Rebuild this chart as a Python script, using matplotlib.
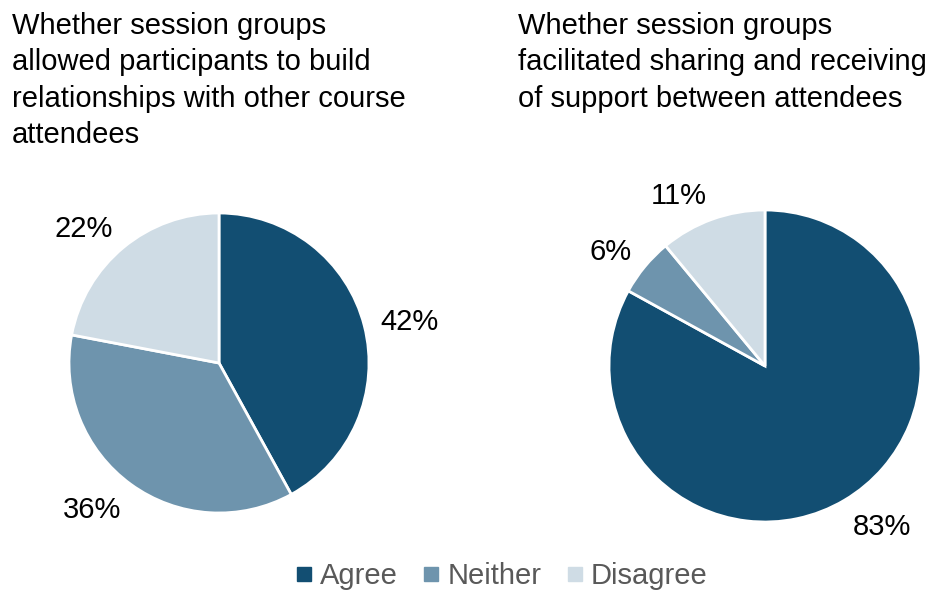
import numpy as np
import matplotlib.pyplot as plt
from matplotlib.lines import Line2D

plt.rcParams["font.family"] = ["Liberation Sans", "DejaVu Sans"]

categories = ["Agree", "Neither", "Disagree"]
relationships = [42, 36, 22]
support = [83, 6, 11]
colors = ["#124E72", "#6E94AD", "#CFDCE5"]
title_left = "Whether session groups\nallowed participants to build\nrelationships with other course\nattendees"
title_right = "Whether session groups\nfacilitated sharing and receiving\nof support between attendees"

W, H = 929, 591
fig = plt.figure(figsize=(W / 100, H / 100), dpi=100)


def pie_axes(cx, cy, r):
    return fig.add_axes([(cx - r) / W, (H - cy - r) / H, 2 * r / W, 2 * r / H])


for vals, (cx, cy, r) in [(relationships, (219, 363, 150)),
                          (support, (765, 366, 156))]:
    ax = pie_axes(cx, cy, r)
    wedges, _ = ax.pie(vals, colors=colors, startangle=90, counterclock=False,
                       wedgeprops=dict(edgecolor="white", linewidth=2))
    ax.set_xlim(-1, 1)
    ax.set_ylim(-1, 1)
    # outside-end labels, placed like office charts
    g = 17 / r
    hh = 11 / r
    for w, v in zip(wedges, vals):
        ang = np.deg2rad((w.theta1 + w.theta2) / 2)
        ux, uy = np.cos(ang), np.sin(ang)
        x = (1 + g) * ux
        y = (1 + g) * uy + uy * hh - hh
        ax.text(x, y, f"{v}%", fontsize=21, ha="left" if ux > 0 else "right",
                va="baseline")

fig.text(12 / W, 1 - 12 / H, title_left, fontsize=21, va="top", ha="left",
         linespacing=1.38)
fig.text(518 / W, 1 - 12 / H, title_right, fontsize=21, va="top", ha="left",
         linespacing=1.38)

handles = [Line2D([], [], marker="s", linestyle="none", markersize=10,
                  markerfacecolor=c, markeredgecolor=c) for c in colors]
fig.legend(handles, categories, loc="center", bbox_to_anchor=(500 / W, 1 - 576 / H),
           ncol=3, frameon=False, fontsize=21, labelcolor="#595959",
           handletextpad=0.15, columnspacing=0.75, handlelength=0.8)

fig.savefig("out.png", dpi=100)
